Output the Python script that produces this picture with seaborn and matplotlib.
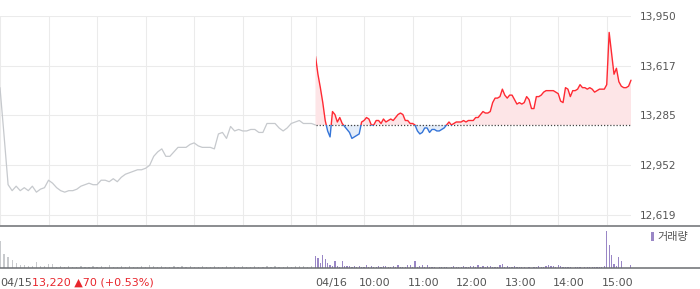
import numpy as np
import matplotlib
matplotlib.use("Agg")
import matplotlib.pyplot as plt
import seaborn as sns
from matplotlib.lines import Line2D
from matplotlib.patches import Rectangle
from matplotlib.transforms import ScaledTranslation

# ---------------- data ----------------
prev_close = 13220
change_text = "13,220 \u25b270 (+0.53%)"

# day 1 (04/15) prices, every 5 minutes from 09:00 to 15:30
price_d1 = [13470, 13150, 12820, 12780, 12810, 12780, 12800, 12780, 12810, 12770,
            12790, 12800, 12850, 12830, 12800, 12780, 12770, 12780, 12780, 12790,
            12810, 12820, 12830, 12820, 12820, 12850, 12850, 12840, 12860, 12840,
            12870, 12890, 12900, 12910, 12920, 12920, 12930, 12950, 13010, 13040,
            13060, 13010, 13010, 13040, 13070, 13070, 13070, 13090, 13100, 13080,
            13070, 13070, 13070, 13060, 13160, 13170, 13130, 13210, 13180, 13190,
            13180, 13180, 13190, 13190, 13170, 13170, 13230, 13230, 13230, 13200,
            13180, 13200, 13230, 13240, 13250, 13230, 13230, 13230, 13220]
vol_d1 = [27, 14, 11, 8, 5, 3, 3, 2, 2, 6,
          2, 2, 4, 4, 1, 2, 1, 2, 1, 1,
          2, 1, 1, 2, 1, 2, 1, 3, 1, 1,
          2, 1, 2, 1, 1, 2, 1, 3, 2, 1,
          2, 1, 1, 2, 1, 2, 1, 2, 1, 1,
          2, 1, 1, 2, 1, 1, 2, 1, 2, 1,
          2, 1, 1, 2, 1, 1, 2, 1, 2, 1,
          1, 2, 1, 2, 2, 2, 1, 2, 2]

# day 2 (04/16) prices, every 3 minutes from 09:00 to 15:30
price_d2 = [13680, 13560, 13470, 13370, 13250, 13180, 13140, 13310, 13290, 13240,
            13270, 13230, 13210, 13190, 13170, 13130, 13140, 13150, 13160, 13240,
            13250, 13270, 13260, 13220, 13220, 13250, 13250, 13230, 13260, 13240,
            13250, 13260, 13250, 13270, 13290, 13300, 13290, 13250, 13250, 13230,
            13230, 13220, 13180, 13160, 13170, 13200, 13200, 13170, 13190, 13190,
            13180, 13180, 13190, 13200, 13220, 13240, 13220, 13230, 13240, 13240,
            13240, 13250, 13240, 13250, 13250, 13250, 13270, 13270, 13290, 13310,
            13300, 13300, 13310, 13370, 13400, 13400, 13410, 13460, 13420, 13400,
            13420, 13420, 13390, 13360, 13370, 13360, 13370, 13410, 13390, 13330,
            13330, 13410, 13410, 13420, 13440, 13450, 13450, 13450, 13450, 13440,
            13430, 13380, 13370, 13470, 13460, 13410, 13450, 13450, 13460, 13490,
            13470, 13470, 13460, 13470, 13460, 13440, 13450, 13460, 13460, 13460,
            13490, 13840, 13700, 13560, 13600, 13510, 13480, 13470, 13470, 13480,
            13520]
vol_d2 = [12, 10, 5, 13, 9, 5, 3, 2, 7, 2,
          1, 7, 2, 2, 2, 1, 2, 1, 2, 1,
          1, 3, 1, 2, 1, 1, 2, 1, 2, 2,
          1, 1, 2, 1, 3, 1, 1, 1, 3, 3,
          1, 7, 1, 2, 3, 1, 3, 1, 1, 1,
          0, 1, 1, 1, 1, 0, 1, 2, 1, 1,
          1, 2, 1, 1, 2, 2, 1, 3, 1, 2,
          1, 2, 2, 1, 1, 1, 3, 4, 1, 2,
          1, 1, 2, 1, 1, 1, 1, 0, 1, 0,
          1, 1, 2, 1, 1, 2, 3, 2, 2, 1,
          3, 2, 1, 1, 1, 1, 0, 1, 1, 1,
          0, 1, 1, 1, 1, 1, 1, 1, 1, 2,
          37, 23, 13, 4, 2, 11, 7, 0, 0, 0, 3]

ytick_vals = [12619, 12952, 13285, 13617, 13950]
ytick_labels = ["12,619", "12,952", "13,285", "13,617", "13,950"]
xtick_labels = ["04/15", "04/16", "10:00", "11:00", "12:00", "13:00", "14:00", "15:00"]

# minutes since 04/15 09:00 on a compressed two-session axis
t1 = np.arange(0, 391, 5)
t2 = 390 + np.arange(0, 391, 3)
price_d1 = np.array(price_d1, float)
price_d2 = np.array(price_d2, float)
vol_d1 = np.array(vol_d1, float) * 1000
vol_d2 = np.array(vol_d2, float) * 1000

grid_t = list(range(0, 361, 60)) + list(range(390, 751, 60))
xtick_pos = [0, 390, 450, 510, 570, 630, 690, 750]

# ---------------- style ----------------
sns.set_theme(style="white")
plt.rcParams["font.family"] = ["DejaVu Sans", "Noto Sans CJK KR"]

GRAY = "#c6c9cd"
RED = "#ff2a33"
BLUE = "#3575d8"
PINK = "#fde5e7"
LBLUE = "#e4edf9"
VGRAY = "#c8cacd"
PURPLE = "#9a87c6"
TXT = "#555555"

W, H = 700, 289
fig = plt.figure(figsize=(W / 100, H / 100), dpi=100)
ax = fig.add_axes([0, (H - 225) / H, 631 / W, (225 - 16) / H])
axv = fig.add_axes([0, (H - 268) / H, 631 / W, (268 - 226) / H])

# ---------------- price panel ----------------
sns.lineplot(x=t1, y=price_d1, ax=ax, color=GRAY, linewidth=0.9, estimator=None)

ax.fill_between(t2, price_d2, prev_close, where=price_d2 >= prev_close,
                interpolate=True, color=PINK, linewidth=0, zorder=1.5)
ax.fill_between(t2, price_d2, prev_close, where=price_d2 <= prev_close,
                interpolate=True, color=LBLUE, linewidth=0, zorder=1.5)
ax.hlines(prev_close, t2[0], t2[-1], colors="#444444", linestyles=(0, (1, 1.5)),
          linewidth=0.9, zorder=2.2)

sns.lineplot(x=t2, y=price_d2, ax=ax, color=RED, linewidth=1.0, estimator=None)
up_line = ax.lines[-1]
up_line.set_zorder(3)
up_line.set_clip_path(Rectangle((t2[0], prev_close), 1000, 5000, transform=ax.transData))
sns.lineplot(x=t2, y=price_d2, ax=ax, color=BLUE, linewidth=1.0, estimator=None)
dn_line = ax.lines[-1]
dn_line.set_zorder(3)
dn_line.set_clip_path(Rectangle((t2[0], prev_close - 5000), 1000, 5000, transform=ax.transData))

ax.set_xlim(0, 780)
ax.set_ylim(12550, 13950)
ax.set_xticks(grid_t)
ax.set_xticklabels([])
ax.set_yticks(ytick_vals, ytick_labels)
ax.yaxis.tick_right()
ax.tick_params(axis="y", length=0, pad=6.5, labelsize=7.6, labelcolor=TXT)
ax.tick_params(axis="x", length=0)
ax.grid(True, color="#ebebeb", linewidth=0.75)
ax.set_axisbelow(True)
ax.set_xlabel("")
ax.set_ylabel("")
for s in ax.spines.values():
    s.set_visible(False)

# ---------------- volume panel ----------------
axv.bar(t1, vol_d1, width=1.5, color=VGRAY, linewidth=0)
axv.bar(t2, vol_d2, width=1.5, color=PURPLE, linewidth=0, label="거래량")
axv.set_xlim(0, 780)
axv.set_ylim(0, max(vol_d2.max(), vol_d1.max()) * 42 / 37)
axv.set_yticks([])
axv.set_xticks(xtick_pos, xtick_labels)
axv.tick_params(axis="x", length=3, width=0.9, color="#333333", pad=4,
                labelsize=8, labelcolor=TXT)
for s in axv.spines.values():
    s.set_visible(False)
ticks = axv.xaxis.get_major_ticks()
ticks[0].tick1line.set_visible(False)
labels = axv.get_xticklabels()
for i, lb in enumerate(labels):
    lb.set_horizontalalignment("left")
    dx = 0 if i < 2 else -5 / 100
    lb.set_transform(lb.get_transform() + ScaledTranslation(dx, 0, fig.dpi_scale_trans))

axv.annotate(change_text, xy=(1, 0), xycoords=labels[0], ha="left", va="bottom",
             fontsize=8, color="#e8262d")

axv.legend(loc="upper left", bbox_to_anchor=(651 / W, (H - 232) / H),
           bbox_transform=fig.transFigure, frameon=False, fontsize=8,
           handlelength=0.3, handleheight=0.8, handletextpad=0.25,
           borderpad=0, borderaxespad=0, labelcolor=TXT)

# separator lines spanning the full width
for yy in (225.5, 268.3):
    fig.add_artist(Line2D([0, 1], [(H - yy) / H] * 2, transform=fig.transFigure,
                          color="#6b6e72", linewidth=1.1))

fig.savefig("out.png", dpi=100)
